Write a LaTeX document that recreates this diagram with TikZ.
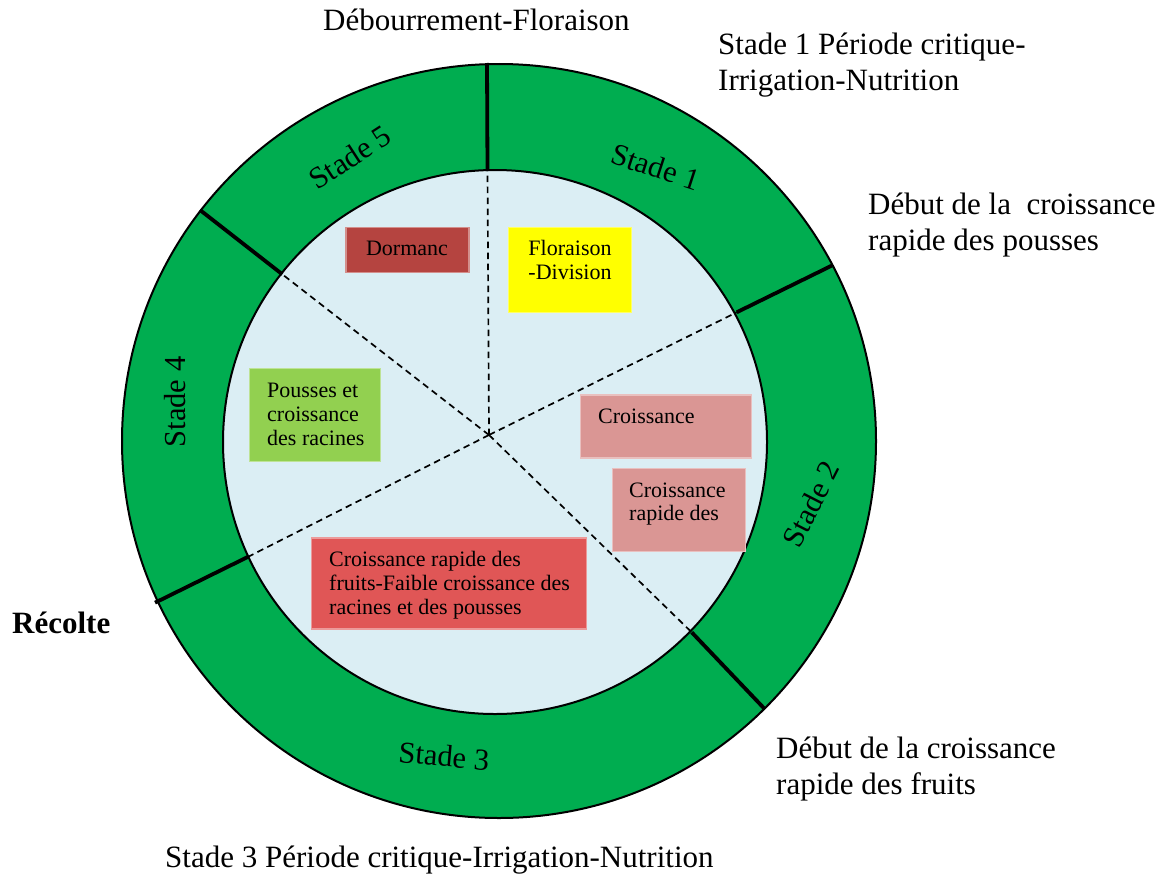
\documentclass[tikz,border=0pt]{standalone}
\usepackage{fontspec}
\setmainfont{Liberation Serif}
\definecolor{ringgreen}{RGB}{0,173,80}
\definecolor{innerblue}{RGB}{219,238,244}
\definecolor{dormcol}{RGB}{181,68,64}
\definecolor{florcol}{RGB}{255,255,0}
\definecolor{pouscol}{RGB}{146,208,80}
\definecolor{pinkcol}{RGB}{218,150,148}
\definecolor{redcol}{RGB}{224,86,86}
\tikzset{
  big/.style={font=\fontsize{31}{36}\selectfont, inner sep=0pt, anchor=base west},
  stadelbl/.style={font=\fontsize{30.5}{36}\selectfont, inner sep=0pt},
  small/.style={font=\fontsize{22}{24}\selectfont, inner sep=0pt, anchor=base west},
  smallc/.style={font=\fontsize{22}{24}\selectfont, inner sep=0pt, anchor=base},
  box/.style={rectangle, inner sep=0pt, line width=1.5pt},
  sep/.style={line width=3.8pt},
  dashline/.style={dashed, dash pattern=on 6.5pt off 4.5pt, line width=1.7pt},
}
\begin{document}
\begin{tikzpicture}[x=1pt,y=-1pt]
\useasboundingbox (0,0) rectangle (1166,875);
% rings
\coordinate (oc) at (499,441);
\coordinate (ic) at (495,442);
\coordinate (c) at (489,435);
\fill[ringgreen] (oc) circle (377);
\draw[line width=2pt] (oc) circle (377);
\fill[innerblue] (ic) circle (272);
\draw[line width=2pt] (ic) circle (272);
% separator coordinates
\coordinate (i1) at (487.5,171);
\coordinate (o1) at (487,63);
\coordinate (i2) at (736.7,312.3);
\coordinate (o2) at (832,265.5);
\coordinate (i3) at (691.7,632.3);
\coordinate (o3) at (764.5,708.8);
\coordinate (i4) at (248.3,556.7);
\coordinate (o4) at (155,602.7);
\coordinate (i5) at (282.3,274.3);
\coordinate (o5) at (200,210);
\foreach \k in {1,...,5}{
  \draw[sep] (i\k) -- (o\k);
  \draw[dashline] (c) -- (i\k);
}
% boxes
\node[box, fill=dormcol, draw=dormcol!60!white, minimum width=123pt, minimum height=45pt] (dorm) at (407.4,250.2) {};
\node[box, fill=florcol, draw=florcol!60!white, minimum width=123pt, minimum height=85pt] (flor) at (570,270.2) {};
\node[box, fill=pouscol, draw=pouscol!60!white, minimum width=131pt, minimum height=93pt] (pous) at (315,415) {};
\node[box, fill=pinkcol, draw=pinkcol!60!white, minimum width=171pt, minimum height=62.7pt] (cr1) at (666.2,426.4) {};
\node[box, fill=pinkcol, draw=pinkcol!60!white, minimum width=133.4pt, minimum height=83.4pt] (cr2) at (679,510) {};
\node[box, fill=redcol, draw=redcol!60!white, minimum width=275pt, minimum height=91.3pt] (fruit) at (449.2,583.4) {};
% box texts
\node[smallc] (tdorm) at (407,255) {Dormanc};
\node[smallc] (tflor1) at (570,255) {Floraison};
\node[smallc] (tflor2) at (570,279) {-Division};
\node[small] (tp1) at (267,397) {Pousses et};
\node[small] (tp2) at (267,421) {croissance};
\node[small] (tp3) at (267,445) {des racines};
\node[small] (tc1) at (598,423) {Croissance};
\node[small] (tc2a) at (629,497) {Croissance};
\node[small] (tc2b) at (629,520) {rapide des};
\node[small] (tf1) at (329,566) {Croissance rapide des};
\node[small] (tf2) at (329,590) {fruits-Faible croissance des};
\node[small] (tf3) at (329,614) {racines et des pousses};
% stade labels
\node[stadelbl, rotate=-18] (st1) at (656,167) {Stade 1};
\node[stadelbl, rotate=63] (st2) at (811,504) {Stade 2};
\node[stadelbl, rotate=-5] (st3) at (444,756) {Stade 3};
\node[stadelbl, rotate=90] (st4) at (175,402) {Stade 4};
\node[stadelbl, rotate=33] (st5) at (350,157) {Stade 5};
% outer texts
\node[big] (deb) at (323,31) {Débourrement-Floraison};
\node[big] (s1a) at (718,55) {Stade 1 Période critique-};
\node[big] (s1b) at (718,90) {Irrigation-Nutrition};
\node[big] (dp1) at (868,214) {Début de la~ croissance};
\node[big] (dp2) at (868,250) {rapide des pousses};
\node[big, font=\fontsize{31}{36}\selectfont\bfseries] (rec) at (12,633) {Récolte};
\node[big] (df1) at (776,758) {Début de la croissance};
\node[big] (df2) at (776,794) {rapide des fruits};
\node[big] (s3) at (165,867) {Stade 3 Période critique-Irrigation-Nutrition};
\end{tikzpicture}
\end{document}
